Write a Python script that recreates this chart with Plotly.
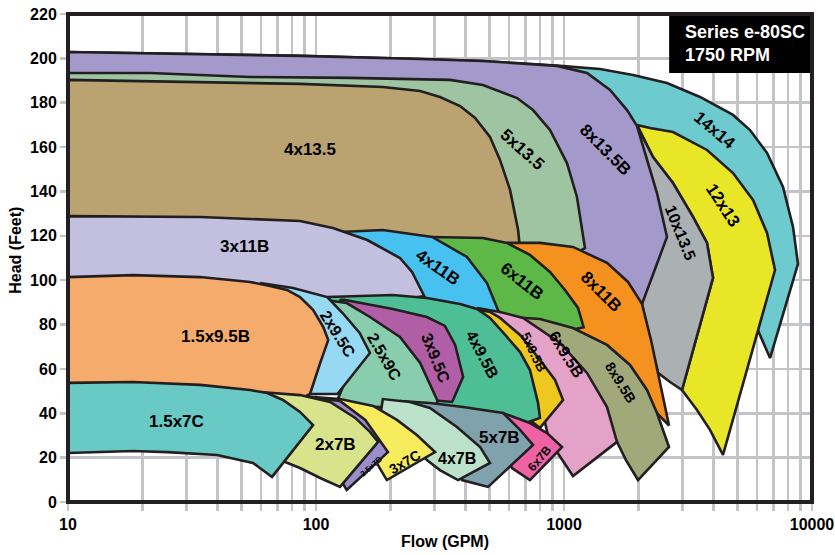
import numpy as np
import plotly.graph_objects as go

# ---------------- DATA: pump model envelopes (flow GPM, head ft) ----------------
m14x14_flow = [10, 19.5, 86.2, 263, 471, 964, 1397, 1898, 2602, 3535, 4803, 5623, 6586, 7640, 8384, 8780, 6772, 6001, 5126, 3535, 1846, 964, 10]
m14x14_head = [202.9, 202.4, 201.1, 199.7, 198.8, 196.6, 195.2, 192.5, 188.9, 182.6, 174.5, 167.7, 157.4, 142.0, 124.0, 107.3, 64.9, 78.4, 108.2, 151.9, 163.2, 181.2, 197.0]

m12x13_flow = [1970, 2222, 2751, 3772, 4803, 5783, 6586, 7093, 4377, 3879, 3438, 2991, 3989, 3772, 3313, 2751, 2285]
m12x13_head = [170.0, 168.6, 166.8, 158.7, 148.3, 136.2, 121.3, 104.6, 21.2, 32.5, 41.5, 50.5, 101.0, 116.8, 128.5, 143.8, 155.5]

m10x135_flow = [1970, 2285, 2751, 3313, 3772, 3989, 2991, 2676, 2393, 2243, 2063, 2328, 2121]
m10x135_head = [169.5, 155.5, 143.8, 128.5, 116.8, 101.0, 50.5, 54.1, 58.2, 70.8, 89.3, 113.6, 145.2]

m8x135B_flow = [10, 19.5, 86.2, 263, 471, 937, 1238, 1533, 1795, 1970, 2161, 2371, 2602, 2063, 1397, 800, 552, 263, 10]
m8x135B_head = [202.9, 202.4, 201.1, 199.7, 198.8, 196.6, 193.4, 185.8, 176.7, 169.5, 154.2, 139.3, 119.5, 89.3, 95.6, 109.1, 136.2, 176.7, 185.8]

m5x135_flow = [10, 21.4, 54.2, 137, 347, 471, 647, 750, 878, 1028, 1128, 1193, 1215, 964, 578, 459, 10]
m5x135_head = [193.4, 193.4, 191.6, 191.2, 190.3, 188.0, 182.1, 176.7, 167.7, 152.8, 137.5, 121.3, 114.5, 108.2, 111.4, 158.7, 181.2]

m4x135_flow = [10, 34.1, 86.2, 186, 263, 316, 381, 438, 503, 552, 606, 653, 665, 665, 459, 288, 181, 114, 86.2, 10]
m4x135_head = [190.3, 189.4, 188.5, 187.1, 185.3, 182.6, 178.5, 173.1, 164.6, 154.2, 140.7, 122.6, 115.9, 113.6, 115.9, 117.2, 118.1, 121.7, 124.9, 126.2]

m8x11B_flow = [589, 800, 1087, 1491, 1812, 2063, 2243, 2393, 2507, 2651, 2350, 1846, 1397, 964, 552, 459]
m8x11B_head = [116.8, 116.8, 115.0, 107.8, 99.2, 89.3, 73.0, 58.2, 46.0, 34.5, 40.5, 55.0, 68.5, 77.5, 82.1, 109.1]

m6x11B_flow = [294, 471, 589, 729, 878, 1009, 1139, 1200, 964, 606, 418]
m6x11B_head = [119.5, 119.0, 116.8, 111.4, 103.7, 95.6, 87.5, 78.8, 76.5, 79.8, 95.6]

m4x11B_flow = [125, 186, 294, 406, 489, 537, 552, 316, 181, 125]
m4x11B_head = [121.7, 122.6, 119.5, 110.5, 98.7, 87.9, 84.3, 88.8, 95.6, 109.1]

m3x11B_flow = [10, 34.1, 86.2, 117, 161, 186, 218, 244, 263, 273, 218, 114, 59.5, 10]
m3x11B_head = [128.9, 128.5, 126.7, 123.5, 118.1, 114.1, 110.0, 103.7, 96.9, 92.9, 91.1, 91.1, 95.6, 97.8]

m8x95B_flow = [606, 800, 1087, 1491, 1846, 2161, 2371, 2651, 1988, 1778, 1636, 1160, 800, 552]
m8x95B_head = [83.4, 82.5, 78.4, 70.8, 61.8, 50.5, 40.1, 24.8, 9.9, 18.9, 27.1, 37.0, 55.0, 77.5]

m6x95B_flow = [446, 552, 684, 964, 1238, 1491, 1636, 1087, 937, 862, 800, 665, 446]
m6x95B_head = [87.5, 85.7, 83.0, 71.7, 58.2, 42.8, 27.1, 11.7, 22.5, 29.8, 46.0, 73.0, 84.3]

m5x95B_flow = [418, 503, 552, 665, 800, 920, 991, 800, 729, 665, 503, 399]
m5x95B_head = [87.5, 85.7, 83.0, 75.3, 64.0, 55.0, 46.0, 33.4, 37.0, 50.5, 73.0, 86.6]

m4x95B_flow = [111, 204, 280, 381, 446, 503, 589, 665, 729, 786, 800, 665, 418, 263, 181, 114]
m4x95B_head = [92.4, 93.3, 92.0, 89.3, 87.0, 83.0, 74.4, 67.6, 59.5, 44.6, 37.9, 34.7, 37.0, 39.2, 46.0, 91.1]

m3x95C_flow = [131, 204, 280, 331, 364, 392, 354, 288, 218, 150, 125]
m3x95C_head = [91.1, 87.0, 83.4, 79.4, 70.8, 56.4, 45.1, 46.0, 55.0, 77.5, 91.1]

m25x9C_flow = [109, 133, 165, 218, 263, 308, 308, 218, 150, 122, 137, 131]
m25x9C_head = [91.1, 89.7, 83.4, 74.4, 62.7, 46.0, 42.0, 42.4, 43.3, 46.0, 59.5, 77.5]

m2x95C_flow = [59.5, 80.8, 111, 128, 150, 165, 122, 94.6, 86.2, 71.6]
m2x95C_head = [98.7, 96.5, 92.4, 85.2, 76.2, 67.2, 48.7, 48.7, 68.5, 91.1]

m15x95B_flow = [10, 18.3, 34.1, 54.2, 65.2, 76.4, 86.2, 97.3, 107, 112, 104, 94.6, 86.2, 59.5, 34.1, 10]
m15x95B_head = [101.4, 102.3, 101.4, 99.2, 97.4, 95.6, 92.4, 86.6, 78.9, 73.0, 62.7, 48.7, 46.4, 46.9, 47.8, 47.8]

m6x7B_flow = [503, 568, 729, 854, 982, 729, 617, 578, 527]
m6x7B_head = [37.9, 40.1, 35.6, 31.1, 24.8, 9.9, 15.3, 21.2, 30.2]

m5x7B_flow = [218, 288, 392, 568, 665, 750, 494, 388, 347, 263, 218]
m5x7B_head = [45.5, 44.6, 42.8, 40.1, 32.5, 25.7, 6.8, 9.9, 23.4, 37.0, 41.5]

m4x7B_flow = [181, 186, 239, 288, 370, 459, 503, 374, 316, 280, 239]
m4x7B_head = [37.9, 46.4, 45.1, 42.4, 33.8, 24.8, 17.6, 9.9, 14.4, 18.9, 28.0]

m3x7C_flow = [86.2, 125, 170, 212, 255, 302, 193, 173, 137, 104]
m3x7C_head = [47.8, 46.4, 43.3, 37.0, 30.2, 22.5, 9.9, 18.9, 37.0, 46.0]

m25x7B_flow = [78.6, 125, 158, 181, 195, 133, 119, 104, 86.2]
m25x7B_head = [48.2, 45.5, 37.0, 28.0, 22.5, 5.4, 14.4, 32.5, 43.7]

m2x7B_flow = [59.5, 86.2, 114, 144, 165, 178, 125, 104, 86.2, 71.6, 65.2, 71.6]
m2x7B_head = [49.6, 48.2, 45.1, 37.9, 31.6, 27.1, 6.8, 10.8, 15.3, 18.9, 28.0, 41.5]

m15x7C_flow = [10, 18.3, 34.1, 54.2, 63.5, 73.6, 86.2, 97.3, 66.5, 55.7, 39.9, 25.1, 18.3, 10]
m15x7C_head = [53.7, 54.1, 52.8, 50.5, 49.1, 46.0, 40.6, 34.7, 11.3, 17.6, 21.2, 22.5, 23.0, 22.1]

# model name, flows, heads, fill colour  (drawn back to front)
models = [
    ("14x14", m14x14_flow, m14x14_head, "#6DCACE"),
    ("12x13", m12x13_flow, m12x13_head, "#E8E627"),
    ("10x13.5", m10x135_flow, m10x135_head, "#ABB0B2"),
    ("8x13.5B", m8x135B_flow, m8x135B_head, "#A39ACB"),
    ("5x13.5", m5x135_flow, m5x135_head, "#9EC4A2"),
    ("4x13.5", m4x135_flow, m4x135_head, "#BAA371"),
    ("8x11B", m8x11B_flow, m8x11B_head, "#F5921F"),
    ("6x11B", m6x11B_flow, m6x11B_head, "#5DB847"),
    ("4x11B", m4x11B_flow, m4x11B_head, "#47C1EF"),
    ("3x11B", m3x11B_flow, m3x11B_head, "#C2BFDF"),
    ("8x9.5B", m8x95B_flow, m8x95B_head, "#A1A87A"),
    ("6x9.5B", m6x95B_flow, m6x95B_head, "#E5A2C8"),
    ("5x9.5B", m5x95B_flow, m5x95B_head, "#EEC81E"),
    ("4x9.5B", m4x95B_flow, m4x95B_head, "#4EBE97"),
    ("3x9.5C", m3x95C_flow, m3x95C_head, "#B05EA6"),
    ("2.5x9C", m25x9C_flow, m25x9C_head, "#88CDAE"),
    ("2x9.5C", m2x95C_flow, m2x95C_head, "#97D8F2"),
    ("1.5x9.5B", m15x95B_flow, m15x95B_head, "#F5AB6B"),
    ("6x7B", m6x7B_flow, m6x7B_head, "#EF63A5"),
    ("5x7B", m5x7B_flow, m5x7B_head, "#7FA2AD"),
    ("4x7B", m4x7B_flow, m4x7B_head, "#BDE2CB"),
    ("3x7C", m3x7C_flow, m3x7C_head, "#F6EC5E"),
    ("2.5x7B", m25x7B_flow, m25x7B_head, "#9A8FCB"),
    ("2x7B", m2x7B_flow, m2x7B_head, "#D8E48B"),
    ("1.5x7C", m15x7C_flow, m15x7C_head, "#69C9C4"),
]

# label: text, flow, head, angle, size
labels = [
    ("4x13.5", 94.6, 158.7, 0, 17),
    ("5x13.5", 677, 158.7, 42, 17),
    ("8x13.5B", 1463, 158.7, 45, 17),
    ("14x14", 4064, 167.7, 40, 17),
    ("12x13", 4337, 133.9, 57, 17),
    ("10x13.5", 2936, 121.3, 68, 16),
    ("3x11B", 51.3, 115.0, 0, 17),
    ("4x11B", 310, 105.5, 35, 17),
    ("6x11B", 677, 99.2, 38, 17),
    ("8x11B", 1410, 95.1, 45, 17),
    ("1.5x9.5B", 39.2, 74.8, 0, 17),
    ("2x9.5C", 123, 75.7, 58, 16),
    ("2.5x9C", 188, 65.4, 60, 16),
    ("3x9.5C", 305, 64.9, 68, 16),
    ("4x9.5B", 467, 66.3, 62, 16),
    ("5x9.5B", 757, 67.6, 65, 13),
    ("6x9.5B", 1019, 66.3, 58, 16),
    ("8x9.5B", 1697, 53.7, 58, 14),
    ("1.5x7C", 27.5, 36.5, 0, 17),
    ("2x7B", 120, 25.7, 0, 17),
    ("2.5x7B", 167, 16.2, -42, 8),
    ("3x7C", 228, 18.0, -30, 14),
    ("4x7B", 370, 19.8, 0, 16),
    ("5x7B", 547, 28.9, 0, 17),
    ("6x7B", 800, 19.8, -50, 12),
]

x_tickvals = [m * 10 ** e for e in range(1, 4) for m in range(1, 10)] + [10000]
x_ticktext = [str(v) if v in (10, 100, 1000, 10000) else "" for v in x_tickvals]

FONT = "Liberation Sans"
OUTLINE = "#231F20"
GRID = "#C4C4C8"

fig = go.Figure()
for name, fl, hd, col in models:
    fig.add_trace(go.Scatter(
        x=list(fl) + [fl[0]], y=list(hd) + [hd[0]],
        mode="lines", fill="toself", fillcolor=col,
        line=dict(color=OUTLINE, width=2.6),
        name=name, hoverinfo="name", showlegend=False))

annotations = []
for txt, fx, hy, ang, sz in labels:
    annotations.append(dict(
        x=np.log10(fx), y=hy, xref="x", yref="y", text=txt, showarrow=False,
        textangle=ang, font=dict(family=FONT, size=sz, color="black", weight="bold")))

annotations.append(dict(
    x=0.826, y=0.9395, xref="paper", yref="paper", xanchor="left", yanchor="middle",
    align="left", showarrow=False, text="Series e-80SC<br>1750 RPM",
    font=dict(family=FONT, size=18, color="white", weight="bold")))
annotations.append(dict(
    x=0.507, y=-0.080, xref="paper", yref="paper", showarrow=False, text="Flow (GPM)",
    xanchor="center", yanchor="middle",
    font=dict(family=FONT, size=16, color="black", weight="bold")))
annotations.append(dict(
    x=-0.0705, y=0.516, xref="paper", yref="paper", showarrow=False, text="Head (Feet)",
    textangle=-90, xanchor="center", yanchor="middle",
    font=dict(family=FONT, size=16, color="black", weight="bold")))

fig.update_layout(
    width=835, height=555,
    margin=dict(l=68, r=23, t=14, b=53, autoexpand=False),
    paper_bgcolor="white", plot_bgcolor="white",
    showlegend=False,
    annotations=annotations,
    shapes=[
        dict(type="rect", xref="paper", yref="paper", x0=0.808, x1=1, y0=0.879, y1=1,
             fillcolor="black", line=dict(width=0), layer="above"),
        dict(type="rect", xref="paper", yref="paper", x0=0, x1=1, y0=0, y1=1,
             line=dict(color=OUTLINE, width=4), layer="above"),
    ],
)
fig.update_xaxes(
    type="log", range=[1, 4], tickvals=x_tickvals, ticktext=x_ticktext,
    showgrid=True, gridcolor=GRID, gridwidth=2.5, automargin=False,
    ticklabeloverflow="allow",
    ticks="outside", ticklen=8, tickwidth=2.5, tickcolor=GRID,
    tickfont=dict(family=FONT, size=16, color="black", weight="bold"),
    zeroline=False, showline=False)
fig.update_yaxes(
    range=[0, 220], tickvals=list(range(0, 221, 20)), automargin=False,
    ticklabeloverflow="allow",
    showgrid=True, gridcolor=GRID, gridwidth=2.5,
    ticks="outside", ticklen=7, tickwidth=2.5, tickcolor=GRID,
    tickfont=dict(family=FONT, size=16, color="black", weight="bold"),
    zeroline=False, showline=False)

# remove the default page margin so the figure sits at the window's top-left corner
fig.write_html("out.html",
               config={"displayModeBar": False, "staticPlot": True},
               post_script="document.body.style.margin='0';document.body.style.overflow='hidden';")
